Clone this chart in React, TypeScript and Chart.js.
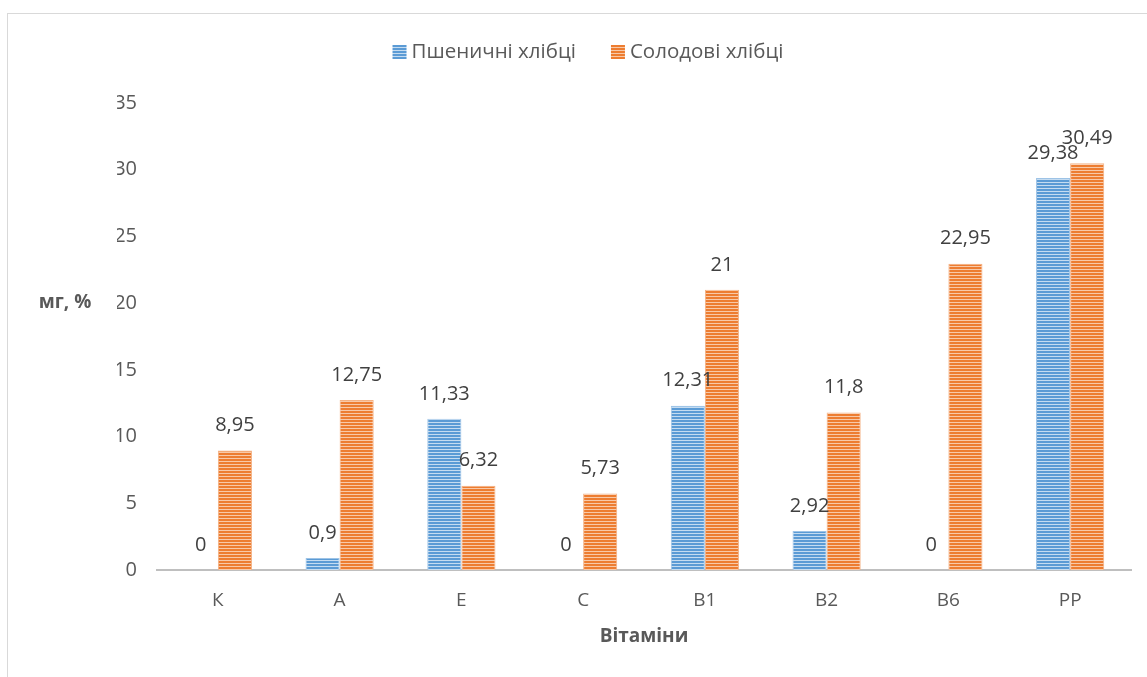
import React, { useEffect, useRef } from "react";
import { Chart, registerables } from "chart.js";

Chart.register(...registerables);

const categories = ["К", "А", "Е", "С", "В1", "В2", "В6", "РР"];
const wheatValues = [0, 0.9, 11.33, 0, 12.31, 2.92, 0, 29.38];
const maltValues = [8.95, 12.75, 6.32, 5.73, 21, 11.8, 22.95, 30.49];
const seriesNames = ["Пшеничні хлібці", "Солодові хлібці"];
const yTitle = "мг, %";
const xTitle = "Вітаміни";

const FONT = "'Open Sans', 'Noto Sans', sans-serif";

function makePattern(dark: string, light: string): CanvasPattern | string {
  const c = document.createElement("canvas");
  c.width = 4;
  c.height = 3;
  const g = c.getContext("2d");
  if (!g) return dark;
  g.fillStyle = dark;
  g.fillRect(0, 0, 4, 2);
  g.fillStyle = light;
  g.fillRect(0, 2, 4, 1);
  const p = g.createPattern(c, "repeat");
  return p || dark;
}

const fmt = (v: number) => String(v).replace(".", ",");

export default function App() {
  const ref = useRef<HTMLCanvasElement | null>(null);

  useEffect(() => {
    const canvas = ref.current;
    if (!canvas) return;
    const bluePat = makePattern("#5B9BD5", "#C5DCF1");
    const orangePat = makePattern("#ED7D31", "#F8C9A8");

    const labelsPlugin = {
      id: "customText",
      afterDatasetsDraw(chart: any) {
        const ctx = chart.ctx;
        ctx.save();
        ctx.fillStyle = "#404040";
        ctx.font = `20px ${FONT}`;
        ctx.textAlign = "center";
        ctx.textBaseline = "middle";
        chart.data.datasets.forEach((ds: any, di: number) => {
          const meta = chart.getDatasetMeta(di);
          meta.data.forEach((bar: any, i: number) => {
            ctx.fillText(fmt(ds.data[i]), bar.x, bar.y - 25);
          });
        });
        // axis titles
        ctx.fillStyle = "#595959";
        ctx.font = `bold 19px ${FONT}`;
        ctx.fillText(yTitle, 65, 303);
        const ca = chart.chartArea;
        ctx.fillText(xTitle, (ca.left + ca.right) / 2, 637);
        // legend
        ctx.font = `20.5px ${FONT}`;
        ctx.textAlign = "left";
        const box = 14;
        const gapText = 5;
        const gapItem = 35;
        const w0 = ctx.measureText(seriesNames[0]).width;
        const w1 = ctx.measureText(seriesNames[1]).width;
        const total = box + gapText + w0 + gapItem + box + gapText + w1;
        let x = 588 - total / 2;
        const y = 52;
        const pats = [bluePat, orangePat];
        for (let k = 0; k < 2; k++) {
          ctx.fillStyle = pats[k];
          ctx.fillRect(x, y - box / 2, box, box);
          x += box + gapText;
          ctx.fillStyle = "#595959";
          ctx.fillText(seriesNames[k], x, y);
          x += (k === 0 ? w0 : w1) + gapItem;
        }
        ctx.restore();
      },
    };

    const chart = new Chart(canvas, {
      type: "bar",
      data: {
        labels: categories,
        datasets: [
          {
            label: seriesNames[0],
            data: wheatValues,
            backgroundColor: bluePat as any,
            borderColor: "#9DC3E6",
            borderWidth: 1,
            barPercentage: 1,
            categoryPercentage: 0.56,
          },
          {
            label: seriesNames[1],
            data: maltValues,
            backgroundColor: orangePat as any,
            borderColor: "#F4B183",
            borderWidth: 1,
            barPercentage: 1,
            categoryPercentage: 0.56,
          },
        ],
      },
      options: {
        animation: false,
        responsive: false,
        maintainAspectRatio: false,
        layout: { padding: { left: 117, right: 16, top: 103, bottom: 0 } },
        plugins: {
          legend: { display: false },
          tooltip: { enabled: false },
        },
        scales: {
          x: {
            grid: { display: false, drawTicks: false },
            border: { display: true, color: "#BFBFBF", width: 2 },
            ticks: {
              color: "#595959",
              font: { family: FONT, size: 19 },
              padding: 19,
            },
            afterFit: (s: any) => {
              s.height = 107;
            },
          },
          y: {
            min: 0,
            max: 35,
            grid: { display: false, drawTicks: false },
            border: { display: false },
            ticks: {
              stepSize: 5,
              color: "#595959",
              font: { family: FONT, size: 20 },
              padding: 20,
            },
            afterFit: (s: any) => {
              s.width = 40;
            },
          },
        },
      },
      plugins: [labelsPlugin],
    });
    return () => chart.destroy();
  }, []);

  return (
    <div
      style={{
        position: "fixed",
        left: 0,
        top: 0,
        width: 1147,
        height: 677,
        overflow: "hidden",
        background: "#fff",
      }}
    >
      <div
        style={{
          position: "absolute",
          left: 7,
          top: 13,
          width: 1200,
          height: 800,
          border: "1px solid #D9D9D9",
          boxSizing: "border-box",
        }}
      />
      <canvas
        ref={ref}
        width={1147}
        height={677}
        style={{ position: "absolute", left: 0, top: 0 }}
      />
    </div>
  );
}
